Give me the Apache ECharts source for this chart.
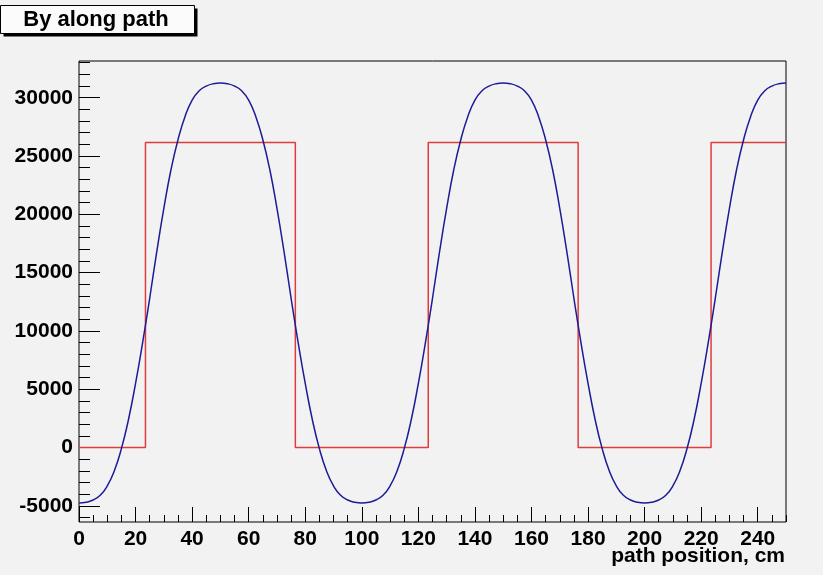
<!DOCTYPE html>
<html>
<head>
<meta charset="utf-8">
<script src="https://cdn.jsdelivr.net/npm/echarts@6/dist/echarts.min.js"></script>
<style>
  html, body { margin: 0; padding: 0; background: #f2f2f2; }
  #chart { width: 823px; height: 575px; }
</style>
</head>
<body>
<div id="chart"></div>
<script>
// Field By sampled every 2.5 cm along the path (0 .. 250 cm)
const pathStep = 2.5;
const byField = [
  -4760, -4700, -4500, -4100, -3300, -2000, -100, 2400, 5500, 9000,
  12800, 16800, 20500, 23800, 26400, 28400, 29800, 30600, 31000, 31200,
  31260, 31200, 31000, 30600, 29800, 28400, 26400, 23800, 20500, 16800,
  12800, 9000, 5500, 2400, -100, -2000, -3300, -4100, -4500, -4700,
  -4760, -4700, -4500, -4100, -3300, -2000, -100, 2400, 5500, 9000,
  12800, 16800, 20500, 23800, 26400, 28400, 29800, 30600, 31000, 31200,
  31260, 31200, 31000, 30600, 29800, 28400, 26400, 23800, 20500, 16800,
  12800, 9000, 5500, 2400, -100, -2000, -3300, -4100, -4500, -4700,
  -4760, -4700, -4500, -4100, -3300, -2000, -100, 2400, 5500, 9000,
  12800, 16800, 20500, 23800, 26400, 28400, 29800, 30600, 31000, 31200,
  31260
];

// Hard-edge magnet profile: segment boundaries (cm) and the level on each segment
const magnetEdges = [0, 23.5, 76.5, 123.5, 176.5, 223.5, 250];
const magnetLevels = [0, 26150, 0, 26150, 0, 26150];

// Axis ticks
const xMajor = [0, 20, 40, 60, 80, 100, 120, 140, 160, 180, 200, 220, 240];
const xMinor = [];
for (let v = 0; v <= 250; v += 5) xMinor.push(v);
const yMajor = [-5000, 0, 5000, 10000, 15000, 20000, 25000, 30000];
const yMinor = [];
for (let v = -6000; v <= 33000; v += 1000) yMinor.push(v);

const xRange = [0, 250];
const yRange = [-6390, 33150];

const blueData = byField.map((v, i) => [i * pathStep, v]);
const redData = [];
magnetLevels.forEach((lvl, i) => {
  redData.push([magnetEdges[i], lvl]);
  redData.push([magnetEdges[i + 1], lvl]);
});

const labelFont = {
  fontFamily: 'Liberation Sans, Arial, sans-serif', fontWeight: 'bold', fontSize: 21, color: '#000',
  formatter: v => String(v)
};

const chart = echarts.init(document.getElementById('chart'), null, { renderer: 'canvas' });
chart.setOption({
  backgroundColor: '#f2f2f2',
  animation: false,
  grid: {
    left: 79, right: 37, top: 61, bottom: 53,
    show: true, borderColor: '#000', borderWidth: 1, backgroundColor: 'transparent'
  },
  xAxis: [
    {
      type: 'value', min: xRange[0], max: xRange[1], position: 'bottom',
      axisLine: { show: false, onZero: false }, splitLine: { show: false },
      axisTick: { show: true, inside: true, length: 15, customValues: xMajor, lineStyle: { color: '#000' } },
      axisLabel: Object.assign({ customValues: xMajor, margin: 7 }, labelFont)
    },
    {
      type: 'value', min: xRange[0], max: xRange[1], position: 'bottom',
      axisLine: { show: false, onZero: false }, splitLine: { show: false },
      axisTick: { show: true, inside: true, length: 7, customValues: xMinor, lineStyle: { color: '#000' } },
      axisLabel: { show: false }
    }
  ],
  yAxis: [
    {
      type: 'value', min: yRange[0], max: yRange[1], position: 'left',
      axisLine: { show: false, onZero: false }, splitLine: { show: false },
      axisTick: { show: true, inside: true, length: 21, customValues: yMajor, lineStyle: { color: '#000' } },
      axisLabel: Object.assign({ customValues: yMajor, margin: 6 }, labelFont)
    },
    {
      type: 'value', min: yRange[0], max: yRange[1], position: 'left',
      axisLine: { show: false, onZero: false }, splitLine: { show: false },
      axisTick: { show: true, inside: true, length: 11, customValues: yMinor, lineStyle: { color: '#000' } },
      axisLabel: { show: false }
    }
  ],
  series: [
    {
      name: 'magnet', type: 'line', data: redData, xAxisIndex: 0, yAxisIndex: 0,
      showSymbol: false, lineStyle: { color: '#e03c3c', width: 1.5 }, z: 3
    },
    {
      name: 'By', type: 'line', data: blueData, xAxisIndex: 0, yAxisIndex: 0,
      smooth: true,
      showSymbol: false, lineStyle: { color: '#1c1c96', width: 1.5 }, z: 4
    }
  ],
  graphic: [
    { type: 'rect', shape: { x: 3.5, y: 8.5, width: 194, height: 28 }, style: { fill: '#000' } },
    { type: 'rect', shape: { x: 0.5, y: 5.5, width: 194, height: 28 }, style: { fill: '#fbfbfb', stroke: '#000', lineWidth: 1 } },
    { type: 'text', x: 96, y: 20, style: { text: 'By along path', font: 'bold 22px "Liberation Sans", Arial, sans-serif', fill: '#000', align: 'center', verticalAlign: 'middle' } },
    { type: 'text', x: 785, y: 556, style: { text: 'path position, cm', font: 'bold 21px "Liberation Sans", Arial, sans-serif', fill: '#000', align: 'right', verticalAlign: 'middle' } }
  ]
});
</script>
</body>
</html>
